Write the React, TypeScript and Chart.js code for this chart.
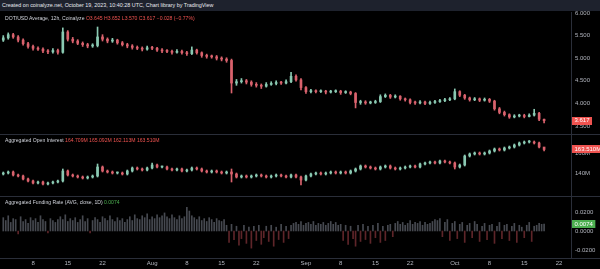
import React, { useEffect, useRef } from 'react';
import { Chart, registerables } from 'chart.js';

Chart.register(...registerables);

// x axis: days since Jul 1, 2023
const X_MIN = 0.34;
const X_MAX = 115.42;
const xTickDays = [7, 14, 21, 31, 38, 45, 52, 62, 69, 76, 83, 92, 99, 106, 113];
const xTickLabels = ['8', '15', '22', 'Aug', '8', '15', '22', 'Sep', '8', '15', '22', 'Oct', '8', '15', '22'];

// DOT/USD daily candles (day 1 = Jul 2)
const priceOpen0 = 5.4;
const priceClose = [
  5.45, 5.52, 5.47, 5.40, 5.32, 5.26, 5.22, 5.20, 5.16, 5.14,
  5.17, 5.13, 5.58, 5.42, 5.38, 5.33, 5.30, 5.27, 5.28, 5.47,
  5.42, 5.38, 5.40, 5.34, 5.30, 5.27, 5.24, 5.22, 5.20, 5.23,
  5.22, 5.18, 5.16, 5.15, 5.13, 5.15, 5.12, 5.10, 5.18, 5.12,
  5.06, 5.04, 5.03, 5.00, 4.98, 4.95, 4.45, 4.48, 4.50, 4.47,
  4.42, 4.40, 4.38, 4.42, 4.44, 4.46, 4.45, 4.48, 4.60, 4.52,
  4.35, 4.26, 4.28, 4.26, 4.27, 4.25, 4.26, 4.27, 4.24, 4.25,
  4.22, 4.02, 4.03, 4.01, 4.02, 4.04, 4.15, 4.18, 4.14, 4.16,
  4.10, 4.08, 4.02, 4.01, 4.03, 4.00, 4.02, 4.04, 4.06, 4.08,
  4.10, 4.26, 4.18, 4.12, 4.08, 4.10, 4.07, 4.09, 4.05, 3.88,
  3.80, 3.75, 3.70, 3.72, 3.73, 3.71, 3.74, 3.78, 3.65, 3.617,
];
const priceHigh = [
  5.50, 5.56, 5.55, 5.50, 5.43, 5.35, 5.29, 5.25, 5.23, 5.19,
  5.21, 5.20, 5.67, 5.61, 5.46, 5.41, 5.36, 5.33, 5.32, 5.69,
  5.52, 5.45, 5.44, 5.42, 5.37, 5.33, 5.30, 5.27, 5.25, 5.27,
  5.26, 5.24, 5.21, 5.19, 5.18, 5.19, 5.18, 5.15, 5.25, 5.20,
  5.14, 5.09, 5.07, 5.06, 5.03, 5.01, 4.98, 4.53, 4.55, 4.53,
  4.50, 4.46, 4.43, 4.46, 4.48, 4.50, 4.49, 4.52, 4.69, 4.63,
  4.55, 4.37, 4.31, 4.30, 4.30, 4.29, 4.29, 4.30, 4.29, 4.28,
  4.27, 4.24, 4.07, 4.06, 4.05, 4.07, 4.19, 4.21, 4.20, 4.19,
  4.17, 4.12, 4.10, 4.05, 4.06, 4.05, 4.05, 4.07, 4.09, 4.11,
  4.13, 4.32, 4.28, 4.20, 4.14, 4.13, 4.12, 4.12, 4.11, 4.07,
  3.91, 3.83, 3.77, 3.75, 3.76, 3.76, 3.77, 3.87, 3.80, 3.652,
];
const priceLow = [
  5.37, 5.42, 5.44, 5.36, 5.29, 5.22, 5.18, 5.17, 5.12, 5.10,
  5.11, 5.09, 5.11, 5.38, 5.34, 5.30, 5.26, 5.23, 5.24, 5.25,
  5.38, 5.34, 5.35, 5.31, 5.27, 5.23, 5.20, 5.19, 5.16, 5.18,
  5.19, 5.15, 5.12, 5.12, 5.09, 5.11, 5.09, 5.06, 5.08, 5.09,
  5.02, 5.00, 5.00, 4.96, 4.94, 4.91, 4.23, 4.40, 4.45, 4.43,
  4.38, 4.36, 4.33, 4.36, 4.40, 4.41, 4.42, 4.43, 4.46, 4.49,
  4.30, 4.22, 4.23, 4.23, 4.24, 4.21, 4.23, 4.24, 4.20, 4.22,
  4.19, 3.90, 3.98, 3.98, 3.99, 4.00, 4.02, 4.13, 4.11, 4.12,
  4.07, 4.05, 3.99, 3.98, 3.99, 3.97, 3.98, 4.00, 4.02, 4.04,
  4.06, 4.08, 4.15, 4.09, 4.05, 4.06, 4.04, 4.05, 4.02, 3.85,
  3.77, 3.72, 3.67, 3.68, 3.70, 3.68, 3.70, 3.72, 3.62, 3.570,
];

// Aggregated open interest (M USD), daily candles
const oiOpen0 = 139;
const oiClose = [
  140, 141, 138, 137, 134, 132, 130, 131, 129, 130,
  131, 132, 142, 138, 137, 136, 135, 136, 137, 146,
  142, 141, 140, 140, 139, 142, 145, 144, 143, 145,
  148, 146, 146, 144, 143, 144, 142, 143, 145, 144,
  142, 141, 142, 141, 140, 141, 139, 136, 137, 136,
  137, 138, 137, 136, 137, 138, 137, 136, 138, 136,
  133, 137, 139, 140, 139, 140, 141, 140, 141, 140,
  142, 144, 147, 146, 145, 144, 146, 147, 145, 144,
  145, 146, 147, 146, 149, 150, 151, 150, 152, 151,
  150, 146, 148, 157, 159, 160, 159, 160, 162, 164,
  163, 165, 166, 168, 170, 171, 171, 170, 166, 163.51,
];
const oiHigh = [
  141, 142, 142, 139, 138, 135, 133, 132, 132, 131,
  132, 133, 144, 143, 139, 138, 137, 137, 138, 149,
  147, 143, 142, 141, 141, 143, 146, 146, 145, 146,
  150, 149, 147, 147, 145, 145, 145, 144, 146, 146,
  145, 143, 143, 143, 142, 142, 144, 140, 138, 138,
  138, 139, 139, 138, 138, 139, 139, 138, 139, 139,
  137, 138, 140, 141, 141, 141, 142, 142, 142, 142,
  143, 145, 148, 148, 147, 146, 147, 148, 148, 146,
  146, 147, 148, 148, 150, 151, 152, 152, 153, 153,
  152, 151, 149, 158, 160, 161, 161, 161, 163, 165,
  165, 166, 167, 169, 171, 172, 172.5, 172, 171, 165.09,
];
const oiLow = [
  138, 139, 137, 136, 133, 131, 129, 129, 128, 128,
  129, 130, 131, 137, 136, 135, 134, 134, 135, 136,
  141, 140, 139, 139, 138, 138, 141, 143, 142, 142,
  144, 145, 145, 143, 142, 142, 141, 141, 142, 143,
  141, 140, 140, 140, 139, 139, 131, 135, 135, 135,
  135, 136, 136, 135, 135, 136, 136, 135, 135, 135,
  128, 132, 136, 138, 138, 138, 139, 139, 139, 139,
  139, 141, 143, 145, 144, 143, 143, 145, 144, 143,
  143, 144, 145, 145, 145, 148, 149, 149, 149, 150,
  149, 144, 145, 147, 156, 158, 158, 158, 159, 161,
  162, 162, 164, 165, 167, 169, 170, 169, 165, 162.11,
];

// Aggregated funding rate, 12h bars (first bar = day 1)
const fundingRate = [
  0.014, 0.011, 0.016, 0.009, 0.013, 0.012, -0.003, 0.015, 0.010, 0.012, 0.008, 0.014, 0.011, 0.013, 0.009, 0.016, 0.012, 0.010, -0.002, 0.013, 0.011, 0.009, 0.012,
  0.015, 0.012, 0.017, 0.010, 0.013, 0.011, 0.014, 0.009, 0.012, 0.016, 0.010, 0.013, -0.002, 0.011, 0.014, 0.012, 0.009, 0.015, 0.013, 0.011,
  0.016, 0.012, 0.010, 0.014, 0.011, 0.013, 0.009, 0.012, 0.015, 0.011, 0.017, 0.013, 0.012, 0.016, 0.014, 0.018, 0.012, 0.015, 0.013, 0.017,
  0.014, 0.016, 0.019, 0.015, 0.013, 0.017, 0.014, 0.012, 0.016, 0.013, 0.015, 0.025, 0.021, 0.016, 0.014, 0.012, 0.015, 0.011, 0.013, 0.010,
  0.014, 0.012, 0.009, 0.013, 0.011, 0.010, 0.012,
  0.006, -0.012, 0.007, -0.009, 0.005, -0.015, -0.008, 0.006, -0.013, 0.004, -0.018, 0.005, -0.010, 0.006, -0.014, -0.007, 0.005, -0.011, 0.006, -0.016, 0.004, -0.009, 0.007, -0.012, 0.005, -0.008, 0.006, 0.008,
  0.009, 0.007, 0.010, 0.006, 0.008, 0.009, 0.007, 0.010, 0.006, 0.008, 0.007, 0.009, 0.006, 0.008, 0.010, 0.007, 0.009, 0.006,
  0.007, -0.010, 0.006, -0.014, 0.005, -0.008, -0.016, 0.006, -0.011, 0.007, -0.009, 0.005, -0.013, 0.006, -0.007, 0.008, -0.012, 0.005, -0.010, 0.006, 0.007, -0.006,
  0.008, 0.010, 0.007, 0.009, 0.006, 0.008, 0.011, 0.007, 0.009, 0.008, 0.010, 0.006, 0.009, 0.007, 0.008, 0.010, 0.012,
  0.011, 0.013, -0.006, 0.009, 0.012, -0.010, 0.008, 0.010, -0.008, 0.007, 0.009, -0.012, 0.006, 0.008, -0.007, 0.010, 0.007, -0.011, 0.005, 0.008,
  -0.009, 0.006, 0.007, -0.013, 0.005, 0.009, -0.008, 0.006, 0.007, -0.010, 0.005, 0.008, -0.012, 0.006, 0.004, -0.007, 0.006, 0.009, -0.011, 0.005,
  0.006, 0.008, 0.007, 0.0074,
];

const priceTicks = [6, 5.5, 5, 4.5, 4, 3.5];
const oiTicks = [160, 140];
const fundingTicks = [0.02, 0, -0.02];

const lastPrice = '3.617';
const lastOI = '163.510M';
const lastFunding = '0.0074';

const FONT = "'Liberation Sans', Arial, sans-serif";
const UP = '#8ac9b2';
const DOWN = '#d9626d';
const AXIS_TXT = '#b2b5be';
const LINE = '#2a2e39';

function candleSets(open0: number, close: number[], high: number[], low: number[], axis: string) {
  const opens = close.map((_, i) => (i === 0 ? open0 : close[i - 1]));
  const colors = close.map((c, i) => (c >= opens[i] ? UP : DOWN));
  const wick = {
    type: 'bar' as const,
    yAxisID: axis,
    grouped: false,
    barThickness: 1,
    backgroundColor: colors,
    data: close.map((_, i) => ({ x: i + 1, y: [low[i], high[i]] })),
  };
  const body = {
    type: 'bar' as const,
    yAxisID: axis,
    grouped: false,
    barThickness: 2,
    minBarLength: 1,
    backgroundColor: colors,
    data: close.map((c, i) => ({ x: i + 1, y: [opens[i], c] })),
  };
  return [wick, body];
}

function yAxis(weight: number, min: number, max: number, ticks: number[], fmt: (v: number) => string) {
  return {
    type: 'linear' as const,
    position: 'right' as const,
    stack: 'panes',
    stackWeight: weight,
    min,
    max,
    offset: false,
    grid: { display: false, drawTicks: false },
    border: { display: true, color: LINE },
    ticks: {
      padding: 4,
      color: AXIS_TXT,
      font: { size: 6, family: FONT },
      callback: (v: any) => fmt(Number(v)),
    },
    afterBuildTicks: (s: any) => {
      s.ticks = ticks.map((v) => ({ value: v }));
    },
    afterFit: (s: any) => {
      s.width = 29;
    },
  };
}

const overlayPlugin = {
  id: 'overlay',
  afterDraw(chart: any) {
    const ctx = chart.ctx;
    const { yPrice, yOI, yFund, x } = chart.scales;
    ctx.save();
    ctx.strokeStyle = LINE;
    ctx.lineWidth = 1;
    [yPrice.bottom, yOI.bottom, x.top].forEach((y: number) => {
      ctx.beginPath();
      ctx.moveTo(0, Math.round(y) + 0.5);
      ctx.lineTo(600, Math.round(y) + 0.5);
      ctx.stroke();
    });

    const label = (scale: any, value: number, text: string, bg: string) => {
      const y = scale.getPixelForValue(value);
      ctx.font = `6px ${FONT}`;
      const w = ctx.measureText(text).width + 5;
      const left = scale.left + 1;
      ctx.fillStyle = bg;
      ctx.fillRect(left, Math.round(y - 4), w, 8);
      ctx.fillStyle = '#ffffff';
      ctx.textBaseline = 'middle';
      ctx.textAlign = 'left';
      ctx.fillText(text, left + 2.5, y);
    };
    label(yPrice, priceClose[priceClose.length - 1], lastPrice, '#ef5350');
    label(yOI, oiClose[oiClose.length - 1], lastOI, '#ef5350');
    label(yFund, fundingRate[fundingRate.length - 1], lastFunding, '#4caf50');
    ctx.restore();
  },
};

export default function App() {
  const ref = useRef<HTMLCanvasElement | null>(null);

  useEffect(() => {
    document.body.style.margin = '0';
    document.body.style.background = '#000';
    if (!ref.current) return;
    const priceSets = candleSets(priceOpen0, priceClose, priceHigh, priceLow, 'yPrice');
    const oiSets = candleSets(oiOpen0, oiClose, oiHigh, oiLow, 'yOI');
    const fundSet = {
      type: 'bar' as const,
      yAxisID: 'yFund',
      grouped: false,
      barThickness: 1,
      backgroundColor: fundingRate.map((v) => (v >= 0 ? '#464950' : '#5e2529')),
      data: fundingRate.map((v, i) => ({ x: 1 + i * 0.5, y: v })),
    };
    const chart = new Chart(ref.current, {
      type: 'bar',
      data: { datasets: [...priceSets, ...oiSets, fundSet] as any },
      options: {
        responsive: false,
        devicePixelRatio: 1,
        animation: false,
        events: [],
        layout: { padding: { top: 12, left: 0, right: 0, bottom: 0 } },
        plugins: { legend: { display: false }, tooltip: { enabled: false } },
        scales: {
          x: {
            type: 'linear',
            min: X_MIN,
            max: X_MAX,
            offset: false,
            grid: { display: false, drawTicks: false, offset: false },
            border: { display: false },
            ticks: {
              autoSkip: false,
              maxRotation: 0,
              padding: 2,
              color: AXIS_TXT,
              font: { size: 6, family: FONT },
              callback: (_v: any, i: number) => xTickLabels[i],
            },
            afterBuildTicks: (s: any) => {
              s.ticks = xTickDays.map((v) => ({ value: v }));
            },
            afterFit: (s: any) => {
              s.height = 11;
            },
          },
          yPrice: yAxis(122, 3.323, 6.022, priceTicks, (v) => v.toFixed(3)),
          yOI: yAxis(62, 117, 179, oiTicks, (v) => `${v}M`),
          yFund: yAxis(62, -0.0284, 0.0368, fundingTicks, (v) => v.toFixed(4)),
        } as any,
      },
      plugins: [overlayPlugin],
    });
    return () => chart.destroy();
  }, []);

  const legend = (top: number): React.CSSProperties => ({
    position: 'absolute',
    left: 5,
    top,
    fontSize: 5.1,
    lineHeight: '6px',
    color: '#d1d4dc',
    whiteSpace: 'nowrap',
  });

  return (
    <div
      style={{
        position: 'relative',
        width: 600,
        height: 269,
        background: '#000',
        overflow: 'hidden',
        fontFamily: FONT,
      }}
    >
      <canvas ref={ref} width={600} height={269} style={{ position: 'absolute', left: 0, top: 0, width: 600, height: 269 }} />
      <div
        style={{
          position: 'absolute',
          left: 0,
          top: 0,
          width: 600,
          height: 11,
          background: '#1e222d',
          color: '#e6e8ee',
          fontSize: 5.4,
          lineHeight: '11px',
          paddingLeft: 2,
          boxSizing: 'border-box',
          whiteSpace: 'nowrap',
        }}
      >
        Created on coinalyze.net, October 19, 2023, 10:40:28 UTC, Chart library by TradingView
      </div>
      <div style={legend(15)}>
        DOT/USD Average, 12h, Coinalyze{' '}
        <span style={{ color: '#ef5350' }}>O3.645 H3.652 L3.570 C3.617 −0.028 (−0.77%)</span>
      </div>
      <div style={legend(137)}>
        Aggregated Open Interest{' '}
        <span style={{ color: '#ef5350' }}>164.709M 165.092M 162.113M 163.510M</span>
      </div>
      <div style={legend(198.5)}>
        Aggregated Funding Rate (AVG, close, 1D) <span style={{ color: '#4caf50' }}>0.0074</span>
      </div>
    </div>
  );
}
